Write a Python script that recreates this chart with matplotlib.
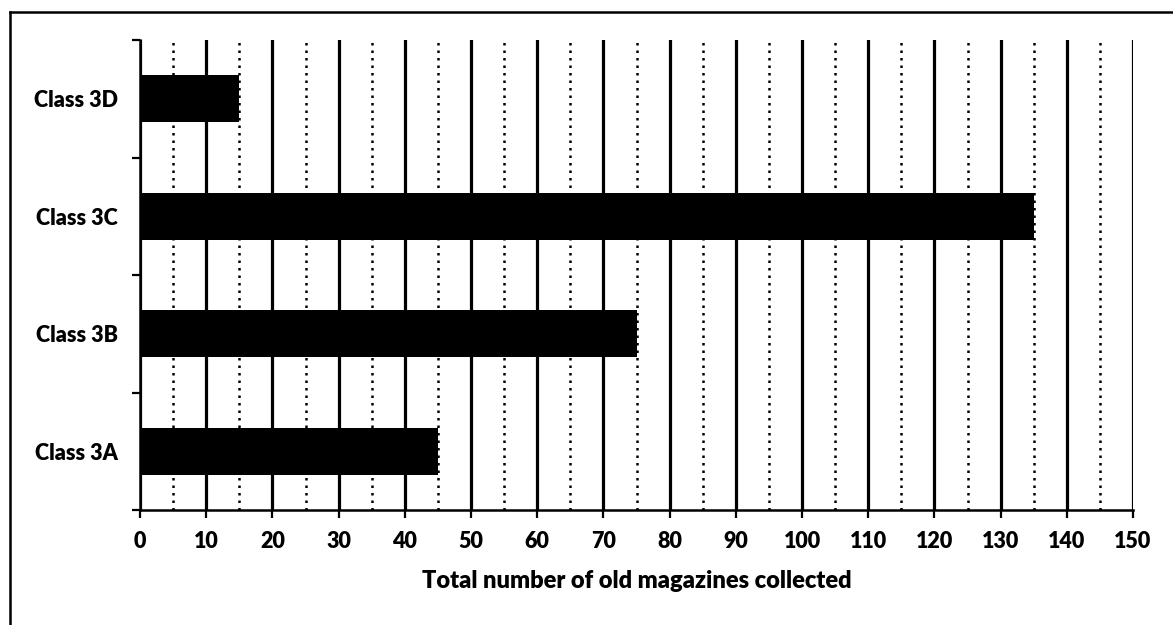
import matplotlib
matplotlib.use("Agg")
import matplotlib.pyplot as plt
from matplotlib.lines import Line2D
from matplotlib.ticker import MultipleLocator, FixedLocator

categories = ["Class 3A", "Class 3B", "Class 3C", "Class 3D"]
values = [45, 75, 135, 15]
x_label = "Total number of old magazines collected"

plt.rcParams['font.family'] = ['Lato', 'DejaVu Sans']
plt.rcParams['font.weight'] = 'heavy'

fig = plt.figure(figsize=(11.73, 6.25), dpi=100)
ax = fig.add_axes([140/1173, 1 - 510/625, (1133-140)/1173, (510-40)/625])

pos = list(range(len(categories)))
ax.barh(pos, values, height=0.4, color='black', zorder=3)

ax.set_xlim(0, 150)
ax.set_ylim(-0.5, len(categories) - 0.5)

ax.xaxis.set_major_locator(MultipleLocator(10))
ax.xaxis.set_minor_locator(MultipleLocator(5))
ax.grid(axis='x', which='major', color='black', linewidth=2.3, linestyle='-', zorder=1)
ax.grid(axis='x', which='minor', color='black', linewidth=1.8, linestyle=(0, (1.0, 2.0)), zorder=1)

ax.set_yticks(pos)
ax.set_yticklabels(categories)
ax.yaxis.set_minor_locator(FixedLocator([p - 0.5 for p in range(len(categories) + 1)]))

ax.tick_params(axis='y', which='major', length=0, pad=16, labelsize=15.5)
ax.tick_params(axis='y', which='minor', length=6, width=1.6, direction='out', color='black')
ax.tick_params(axis='x', which='major', length=6, width=1.6, direction='out', pad=9, labelsize=15.5)
ax.tick_params(axis='x', which='minor', length=0)

for lab in ax.get_xticklabels() + ax.get_yticklabels():
    lab.set_fontweight('heavy')

ax.set_xlabel(x_label, fontsize=17, fontweight='heavy', labelpad=13)

for s in ['top', 'right']:
    ax.spines[s].set_visible(False)
for s in ['left', 'bottom']:
    ax.spines[s].set_linewidth(1.8)
    ax.spines[s].set_color('black')

# outer frame (scanned border)
fig.add_artist(Line2D([10/1173, 1.0], [1 - 12/625, 1 - 12/625], color='black', linewidth=1.8, transform=fig.transFigure))
fig.add_artist(Line2D([10/1173, 10/1173], [0.0, 1 - 12/625], color='black', linewidth=1.8, transform=fig.transFigure))

fig.savefig("out.png", dpi=100)
